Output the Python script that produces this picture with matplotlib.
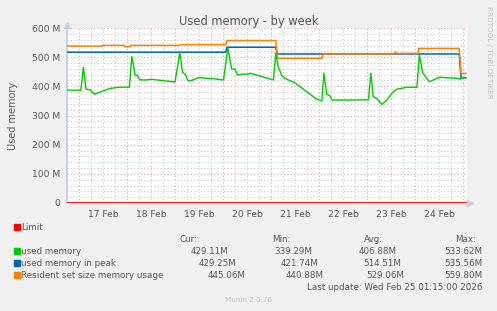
import numpy as np
import matplotlib
matplotlib.use("Agg")
import matplotlib.pyplot as plt
from matplotlib.patches import Rectangle

# time in days since 17 Feb 00:00, values in MB
used_t = [-0.26, 0.03, 0.08, 0.135, 0.23, 0.31, 0.64, 0.84, 1.04, 1.09, 1.16, 1.20, 1.26,
          1.40, 1.50, 1.99, 2.09, 2.15, 2.20, 2.27, 2.37, 2.48, 2.79, 3.00, 3.09, 3.17,
          3.24, 3.29, 3.41, 3.52, 3.55, 4.04, 4.09, 4.14, 4.21, 4.28, 4.49, 4.73, 4.94,
          5.05, 5.09, 5.15, 5.22, 5.26, 5.64, 6.02, 6.07, 6.12, 6.19, 6.30, 6.40, 6.54,
          6.61, 6.82, 7.03, 7.08, 7.15, 7.20, 7.29, 7.44, 7.51, 7.89, 7.94, 7.96, 8.03]
used_v = [387, 387, 465, 391, 387, 373, 393, 397, 397, 502, 439, 439, 422,
          422, 424, 415, 515, 447, 442, 418, 422, 430, 426, 422, 532, 459,
          459, 439, 442, 442, 445, 422, 515, 467, 439, 427, 412, 382, 356,
          350, 445, 374, 367, 353, 353, 354, 445, 364, 359, 338, 353, 382,
          390, 397, 397, 507, 447, 435, 416, 427, 431, 427, 424, 431, 429]

peak_t = [-0.26, 3.05, 3.07, 4.09, 4.12, 7.91, 7.95, 8.05]
peak_v = [517, 517, 534, 534, 511, 511, 429, 429]

rss_t = [-0.26, 0.46, 0.48, 0.93, 0.95, 1.05, 1.07, 2.08, 2.10, 3.05, 3.07, 4.09, 4.12,
         5.05, 5.07, 6.55, 6.57, 6.61, 7.05, 7.07, 7.91, 7.95, 8.05]
rss_v = [538, 538, 540.5, 540.5, 536, 536, 540.5, 540.5, 543, 543, 557, 557, 496,
         496, 511, 511, 518, 513, 513, 530, 530, 442, 445]

limit_v = 0

day_labels = ["17 Feb", "18 Feb", "19 Feb", "20 Feb", "21 Feb", "22 Feb", "23 Feb", "24 Feb"]
y_ticks = [0, 100, 200, 300, 400, 500, 600]

legend_rows = [
    ("used memory", "#00CC00", ["429.11M", "339.29M", "406.88M", "533.62M"]),
    ("used memory in peak", "#0066B3", ["429.25M", "421.74M", "514.51M", "535.56M"]),
    ("Resident set size memory usage", "#FF8000", ["445.06M", "440.88M", "529.06M", "559.80M"]),
]

W, H = 497, 311
txt = "#555555"
fig = plt.figure(figsize=(W / 100, H / 100), dpi=100, facecolor="#F0F0F0")
plt.rcParams['font.family'] = ['DejaVu Sans']

def fx(x):
    return x / W

def fy(y):
    return 1 - y / H

ax = fig.add_axes([fx(67), fy(203), 400 / W, 175 / H], facecolor="white")
xmin, xmax = -0.26, 8.073
ax.set_xlim(xmin, xmax)
ax.set_ylim(0, 600)

# grid
for d in np.arange(-0.25, 8.1, 0.25):
    if abs(d - round(d)) < 1e-6:
        ax.axvline(d, color="#E0A4A4", lw=0.8, ls=(0, (1, 2)), zorder=1)
    else:
        ax.axvline(d, color="#C8C8C8", lw=0.8, ls=(0, (1, 2)), zorder=1)
for v in range(20, 601, 20):
    if v % 100 == 0:
        ax.axhline(v, color="#E0A4A4", lw=0.8, ls=(0, (1, 2)), zorder=1)
    else:
        ax.axhline(v, color="#C8C8C8", lw=0.8, ls=(0, (1, 2)), zorder=1)

ax.plot(peak_t, peak_v, color="#0066B3", lw=1.1, zorder=3)
ax.plot(rss_t, rss_v, color="#FF8000", lw=1.1, zorder=4)
ax.plot(used_t, used_v, color="#00CC00", lw=1.0, zorder=5)
ax.axhline(limit_v, color="#FF0000", lw=1.3, zorder=6)

for s in ["top", "right", "bottom"]:
    ax.spines[s].set_visible(False)
ax.spines["left"].set_color("#C8D0F0")
ax.spines["left"].set_linewidth(1.5)
ax.plot([xmin], [612], marker="^", color="#C8D0F0", ms=4, clip_on=False)
ax.plot([xmax + 0.06], [0], marker=">", color="#C8D0F0", ms=4, clip_on=False)

ax.set_xticks(np.arange(8) + 0.5, day_labels)
ax.set_yticks(y_ticks, ["0" if v == 0 else f"{v} M" for v in y_ticks])
ax.tick_params(length=0, labelsize=6.6, labelcolor=txt, pad=5)
ax.set_ylabel("Used memory", fontsize=7, color=txt, labelpad=10)

fig.text(0.5, fy(21), "Used memory - by week", ha="center", va="center", fontsize=8.3, color=txt)
fig.text(fx(489), fy(6), "RRDTOOL / TOBI OETIKER", rotation=270, ha="center", va="top",
         fontsize=5.2, color="#C0C0C0")

# legend
fs = 6.3
def square(x, y, c):
    fig.patches.append(Rectangle((fx(x), fy(y + 3)), 6 / W, 6 / H, color=c,
                                 transform=fig.transFigure, figure=fig))

square(14, 227, "#FF0000")
fig.text(fx(21), fy(228), "Limit", fontsize=fs, color=txt, va="center")
for x, lab in [(180, "Cur:"), (272, "Min:"), (364, "Avg:")]:
    fig.text(fx(x), fy(239), lab, fontsize=fs, color=txt, va="center")
fig.text(fx(476), fy(239), "Max:", fontsize=fs, color=txt, va="center", ha="right")

col_ends = [[228, 312, 397, 482], [236, 318, 401, 482], [245, 324, 404, 482]]
for i, (name, c, vals) in enumerate(legend_rows):
    y = 251 + 12 * i
    square(14, y, c)
    fig.text(fx(21), fy(y), name, fontsize=fs, color=txt, va="center")
    for xe, v in zip(col_ends[i], vals):
        fig.text(fx(xe), fy(y), v, fontsize=fs, color=txt, va="center", ha="right")

fig.text(fx(482), fy(287), "Last update: Wed Feb 25 01:15:00 2026", fontsize=fs, color=txt,
         va="center", ha="right")
fig.text(0.5, fy(300), "Munin 2.0.76", fontsize=5.2, color="#C0C0C0", ha="center", va="center")

fig.savefig("out.png", dpi=100, facecolor=fig.get_facecolor())
